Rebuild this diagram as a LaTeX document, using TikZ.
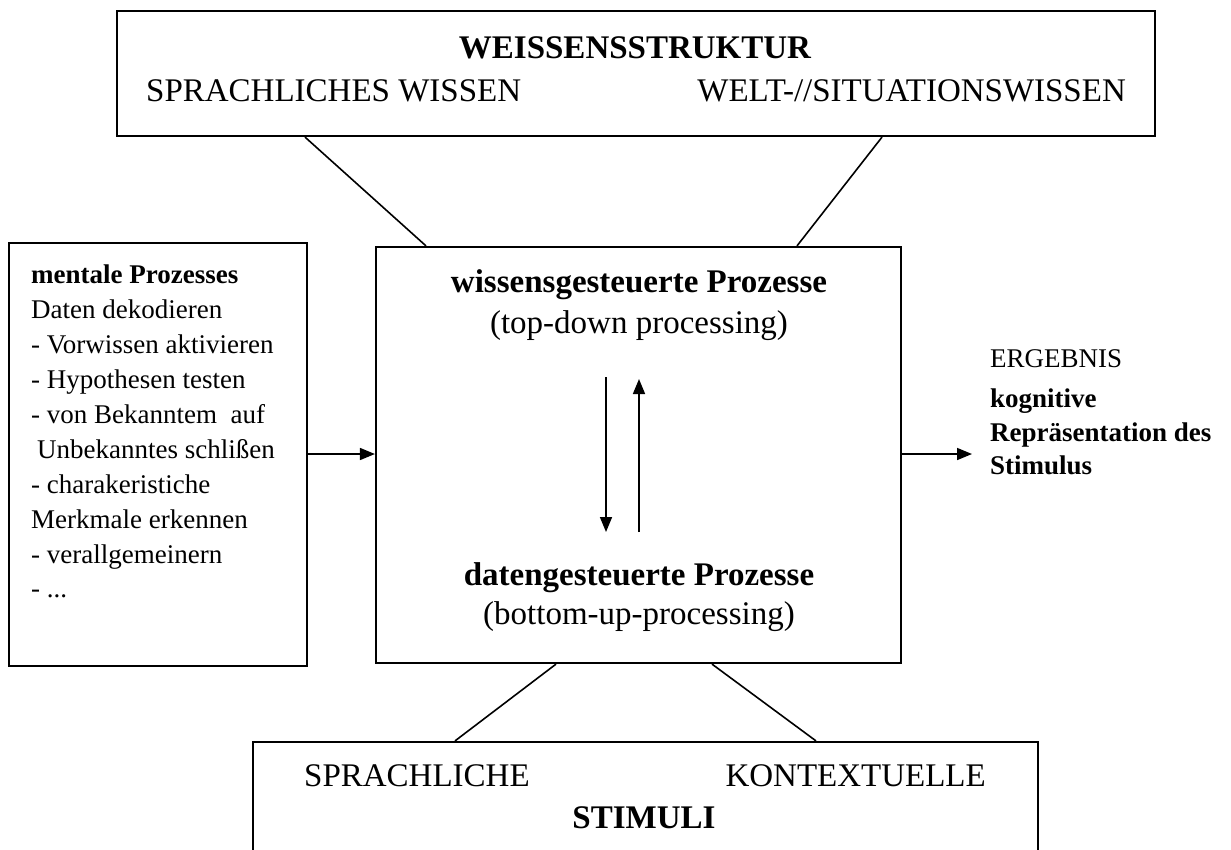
\documentclass[tikz,border=0pt]{standalone}
\usepackage{fontspec}
\setmainfont{Liberation Serif}
\usetikzlibrary{arrows.meta,calc}
\begin{document}
\begin{tikzpicture}[x=1pt,y=-1pt,
  box/.style={draw, line width=2.2pt, inner sep=0pt},
  conn/.style={line width=1.6pt},
  arr/.style={line width=1.6pt, -{Triangle[length=15pt,width=12pt]}},
  big/.style={font=\fontsize{33}{40}\selectfont, inner sep=0pt},
  small/.style={font=\fontsize{27}{35}\selectfont, inner sep=0pt, anchor=base west}]
\useasboundingbox (0,0) rectangle (1231,849);
\clip (0,0) rectangle (1231,849);
\fill[white] (0,0) rectangle (1231,849);

% boxes
\node[box, minimum width=1038pt, minimum height=125pt] (top) at (636,73.5) {};
\node[box, minimum width=298pt, minimum height=423pt] (left) at (158,454.5) {};
\node[box, minimum width=525pt, minimum height=416pt] (mid) at (638.5,455) {};
\node[box, minimum width=785pt, minimum height=160pt] (bot) at (645.5,822) {};

% top box text
\node[big, anchor=base] (ws) at (635,58) {\bfseries WEISSENSSTRUKTUR};
\node[big, anchor=base west] (sw) at (146,101) {SPRACHLICHES WISSEN};
\node[big, anchor=base east] (wsw) at (1126,101) {WELT-//SITUATIONSWISSEN};

% centre box text
\node[big, anchor=base] (wp) at (639,292) {\bfseries wissensgesteuerte Prozesse};
\node[big, anchor=base] (td) at (639,333) {(top-down processing)};
\node[big, anchor=base] (dp) at (639,585) {\bfseries datengesteuerte Prozesse};
\node[big, anchor=base] (bu) at (639,624) {(bottom-up-processing)};

% inner arrows
\coordinate (d1) at (606,377); \coordinate (d2) at (606,532);
\coordinate (u1) at (639,532); \coordinate (u2) at (639,379);
\draw[arr] (d1) -- (d2);
\draw[arr] (u1) -- (u2);

% left box text
\node[small] (l0) at (31,283) {\bfseries mentale Prozesses};
\node[small] (l1) at (31,318) {Daten dekodieren};
\node[small] (l2) at (31,353) {- Vorwissen aktivieren};
\node[small] (l3) at (31,388) {- Hypothesen testen};
\node[small] (l4) at (31,423) {- von Bekanntem\ \ auf};
\node[small] (l5) at (37,458) {Unbekanntes schlißen};
\node[small] (l6) at (31,493) {- charakeristiche};
\node[small] (l7) at (31,528) {Merkmale erkennen};
\node[small] (l8) at (31,563) {- verallgemeinern};
\node[small] (l9) at (31,597) {- ...};

% right text
\node[small] (r1) at (990,367) {ERGEBNIS};
\node[small] (r2) at (990,407) {\bfseries kognitive};
\node[small] (r3) at (990,441) {\bfseries Repräsentation des};
\node[small] (r4) at (990,474) {\bfseries Stimulus};

% bottom box text
\node[big, anchor=base west] (sp) at (304,786) {SPRACHLICHE};
\node[big, anchor=base east] (kt) at (986,786) {KONTEXTUELLE};
\node[big, anchor=base] (st) at (644,828) {\bfseries STIMULI};

% horizontal arrows
\coordinate (res) at (972,454);
\draw[arr] (left.east |- res) -- (mid.west |- res);
\draw[arr] (mid.east |- res) -- (res);

% connectors
\draw[conn] (top.south -| 305,0) -- (mid.north -| 426,0);
\draw[conn] (top.south -| 882,0) -- (mid.north -| 797,0);
\draw[conn] (mid.south -| 556,0) -- (bot.north -| 455,0);
\draw[conn] (mid.south -| 712,0) -- (bot.north -| 816,0);
\end{tikzpicture}
\end{document}
